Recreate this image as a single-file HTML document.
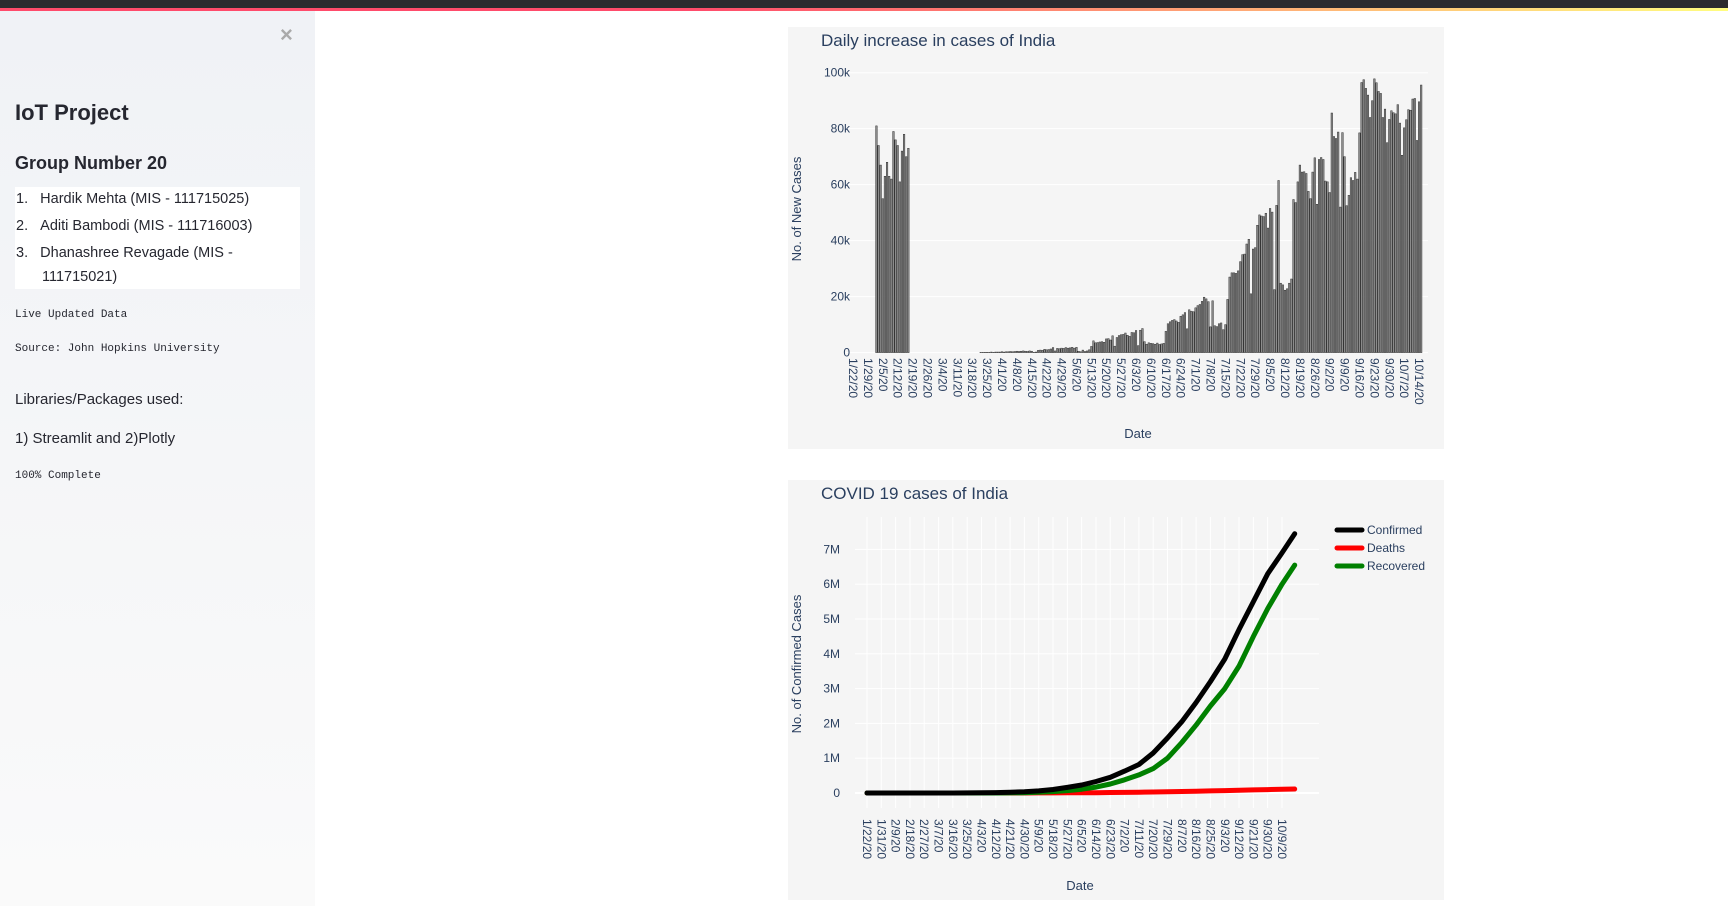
<!DOCTYPE html>
<html><head><meta charset="utf-8"><style>
body{margin:0;width:1728px;height:906px;position:relative;overflow:hidden;background:#fff;font-family:"Liberation Sans","DejaVu Sans",sans-serif;}
#topbar{position:absolute;left:0;top:0;width:1728px;height:8px;background:#2b2b2f;}
#deco{position:absolute;left:0;top:8px;width:1728px;height:3px;background:linear-gradient(90deg,#ff4b6b,#ff4b6b 40%,#fffd80);}
#sidebar{position:absolute;left:0;top:11px;width:315px;height:895px;background:linear-gradient(180deg,#f0f2f6,#fafafa);}
.sb{position:absolute;left:15px;color:#262730;white-space:nowrap;}
.mono{font-family:"Liberation Mono","DejaVu Sans Mono",monospace;font-size:11px;}
#list{position:absolute;left:15px;top:187px;width:285px;height:102px;background:#fff;}
.li{position:absolute;font-size:14.5px;color:#262730;white-space:nowrap;}
</style></head><body>
<div id="topbar"></div>
<div id="deco"></div>
<div id="sidebar">
  <div style="position:absolute;left:280px;top:11px;font-size:22px;color:#aaa;font-weight:bold">×</div>
</div>
<div class="sb" style="top:100px;font-size:22px;font-weight:bold;">IoT Project</div>
<div class="sb" style="top:153px;font-size:18px;font-weight:bold;">Group Number 20</div>
<div id="list">
  <div class="li" style="left:1px;top:4px">1.&nbsp;&nbsp;&nbsp;Hardik Mehta (MIS - 111715025)</div>
  <div class="li" style="left:1px;top:31px">2.&nbsp;&nbsp;&nbsp;Aditi Bambodi (MIS - 111716003)</div>
  <div class="li" style="left:1px;top:58px">3.&nbsp;&nbsp;&nbsp;Dhanashree Revagade (MIS -</div>
  <div class="li" style="left:27px;top:82px">111715021)</div>
</div>
<div class="sb mono" style="top:309px">Live Updated Data</div>
<div class="sb mono" style="top:343px">Source: John Hopkins University</div>
<div class="sb" style="top:391px;font-size:15px">Libraries/Packages used:</div>
<div class="sb" style="top:430px;font-size:15px">1) Streamlit and 2)Plotly</div>
<div class="sb mono" style="top:470px">100% Complete</div>

<svg id="charts" width="1728" height="906" style="position:absolute;left:0;top:0"></svg>
<script>
const dailyCases = [0,0,0,0,0,0,0,0,0,0,0,
81,74,67,55,63,68,63,62,79,76,74,61,72,78,70,73,
0,0,0,0,0,0,0,0,0,0,0,0,0,0,0,0,0,0,0,0,0,0,0,0,0,0,0,0,0,0,0,0,0,
0.1,0.1,0.1,0.1,0.1,0.2,0.1,0.2,0.2,0.2,0.3,0.2,0.3,0.3,0.4,0.3,0.4,0.5,0.4,0.5,0.6,0.5,0.4,0.6,0.5,0.1,0.2,
0.8,0.9,0.8,1.2,1.0,1.1,1.3,1.8,0.6,1.5,1.4,1.6,1.5,1.8,1.6,1.7,1.9,1.6,1.9,0.5,0.3,0.9,0.4,0.6,1.0,2.2,
4.2,3.5,3.6,3.8,3.9,3.7,4.9,5.0,4.5,6.0,2.3,5.4,6.1,6.4,6.5,7.0,6.2,5.8,7.2,7.1,7.9,2.5,8.0,8.6,3.9,3.0,3.5,3.3,3.2,3.0,3.4,2.9,3.1,3.3,
7.6,10.3,11,11.5,11.8,11.3,10.8,13,13.5,14.3,8.5,15.3,14.8,14.6,16,16.8,17.2,18.3,19.8,19.2,
18.2,9.2,18.5,9.6,9.3,10.3,10.6,8.2,10,19,27,28.5,28.5,28.3,29.2,32.5,35,35.2,38.8,40.5,
21,37,37.5,45.5,49.2,48.8,48.6,49.8,44.5,51.5,50.2,22.5,52.6,61.5,24.8,24.2,22.3,22.8,24.8,26.3,
54.7,53.6,61,67,64.5,64.6,64,57.6,55,64.5,69.6,53,69,69.7,69,61.3,61,57.2,85.6,77.2,
76.5,78.8,52,78.6,70,52.5,56.2,62.5,61.5,64.4,62,78.5,96.5,97.5,94.4,92,84,90,97.8,96.4,
93.3,92.6,84,87,75,83.3,86.4,85.7,85.3,88.6,82,70.5,80.3,83.2,86.8,86.6,90.6,90.8,75.8,89.6,95.6];
const yTicks1 = [0,20,40,60,80,100];
const yTickLabels1 = ["0","20k","40k","60k","80k","100k"];
const cumDays = [0,9,18,27,36,45,54,63,72,81,90,99,108,117,126,135,144,153,162,171,180,189,198,207,216,225,234,243,252,261,269];
const confirmed = [0,0,0,0,0,0.0001,0.0005,0.002,0.006,0.012,0.022,0.035,0.06,0.1,0.16,0.23,0.33,0.45,0.63,0.82,1.15,1.58,2.05,2.6,3.2,3.85,4.7,5.5,6.3,6.9,7.45];
const deaths = [0,0,0,0,0,0,0,0,0.0002,0.0004,0.0007,0.0011,0.002,0.003,0.0045,0.0065,0.009,0.014,0.018,0.022,0.028,0.035,0.042,0.05,0.059,0.068,0.078,0.089,0.099,0.106,0.114];
const recovered = [0,0,0,0,0,0,0,0,0.0005,0.001,0.003,0.01,0.02,0.04,0.07,0.11,0.17,0.26,0.38,0.52,0.7,1.0,1.45,1.95,2.5,3.0,3.65,4.5,5.3,6.0,6.55];
const yTicks2 = [0,1,2,3,4,5,6,7];
const yTickLabels2 = ["0","1M","2M","3M","4M","5M","6M","7M"];
const seriesNames = ["Confirmed","Deaths","Recovered"];

const NS="http://www.w3.org/2000/svg";
const svg=document.getElementById('charts');
function mk(tag,attrs,parent){const e=document.createElementNS(NS,tag);for(const k in attrs)e.setAttribute(k,attrs[k]);(parent||svg).appendChild(e);return e;}
function txt(s,attrs,parent){const e=mk('text',attrs,parent);e.textContent=s;return e;}
function dateLabel(d){const t=new Date(2020,0,22+d);return (t.getMonth()+1)+'/'+t.getDate()+'/20';}
const TF='"Liberation Sans","DejaVu Sans",sans-serif';
const C='#2a3f5f';

// Chart 1
const g1=mk('g',{});


const bg1=mk('rect',{x:788,y:27,width:656,height:422,fill:'#f5f5f5'},g1);


const x1=d=>853+d*2.128, y1=v=>352.6-v*2.799;
yTicks1.forEach((v,i)=>{
  const l=mk('line',{x1:846,x2:1428,y1:y1(v),y2:y1(v),stroke:'#fff','stroke-width':1},g1);
  
  
  const t=txt(yTickLabels1[i],{x:850,y:y1(v)+4,'text-anchor':'end','font-size':12,fill:C,'font-family':TF},g1);
  
  
});
dailyCases.forEach((v,i)=>{
  if(v<=0)return;
  const b=mk('rect',{x:x1(i)-0.8,y:y1(v),width:1.6,height:y1(0)-y1(v),fill:'#8c8c8c',stroke:'#262626','stroke-width':0.45},g1);
  
  
});
for(let d=0;d<=266;d+=7){
  const t=txt(dateLabel(d),{transform:`translate(${x1(d)-4},358) rotate(90)`,'font-size':12,fill:C,'font-family':TF},g1);
  
  
}
let e;
e=txt('Daily increase in cases of India',{x:821,y:46,'font-size':17,fill:C,'font-family':TF},g1);

e=txt('No. of New Cases',{transform:'translate(801,209) rotate(-90)','text-anchor':'middle','font-size':13,fill:C,'font-family':TF},g1);

e=txt('Date',{x:1138,y:438,'text-anchor':'middle','font-size':13,fill:C,'font-family':TF},g1);


// Chart 2
const g2=mk('g',{});


const bg2=mk('rect',{x:788,y:480,width:656,height:420,fill:'#f5f5f5'},g2);


const x2=d=>867+d*1.59, y2=v=>793-v*34.8;
for(let d=0;d<=261;d+=9){
  const l=mk('line',{x1:x2(d),x2:x2(d),y1:517,y2:808,stroke:'#fff','stroke-width':1},g2);
  
  
  const t=txt(dateLabel(d),{transform:`translate(${x2(d)-4},819) rotate(90)`,'font-size':12,fill:C,'font-family':TF},g2);
  
  
}
yTicks2.forEach((v,i)=>{
  const l=mk('line',{x1:855,x2:1319,y1:y2(v),y2:y2(v),stroke:'#fff','stroke-width':v===0?2:1},g2);
  
  
  const t=txt(yTickLabels2[i],{x:840,y:y2(v)+4,'text-anchor':'end','font-size':12,fill:C,'font-family':TF},g2);
  
  
});
const seriesData=[confirmed,deaths,recovered], colors=['#000','#ff0000','#008000'];
[1,2,0].forEach(si=>{
  const pts=cumDays.map((d,i)=>x2(d).toFixed(1)+','+y2(seriesData[si][i]).toFixed(1)).join(' ');
  const p=mk('polyline',{points:pts,fill:'none',stroke:colors[si],'stroke-width':5,'stroke-linejoin':'round','stroke-linecap':'round'},g2);
  
  
});
seriesNames.forEach((n,i)=>{
  const yy=530+i*18;
  const l=mk('line',{x1:1337,x2:1362,y1:yy,y2:yy,stroke:colors[i],'stroke-width':5,'stroke-linecap':'round'},g2);
  
  
  const t=txt(n,{x:1367,y:yy+4,'font-size':12,fill:C,'font-family':TF},g2);
  
  
});
e=txt('COVID 19 cases of India',{x:821,y:499,'font-size':17,fill:C,'font-family':TF},g2);

e=txt('No. of Confirmed Cases',{transform:'translate(801,664) rotate(-90)','text-anchor':'middle','font-size':13,fill:C,'font-family':TF},g2);

e=txt('Date',{x:1080,y:890,'text-anchor':'middle','font-size':13,fill:C,'font-family':TF},g2);

</script>
</body></html>
